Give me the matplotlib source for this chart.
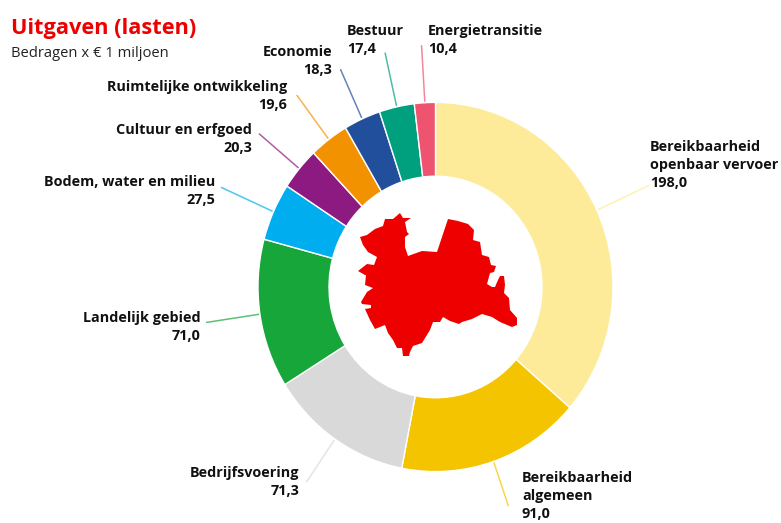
import numpy as np
import matplotlib
matplotlib.use('Agg')
import matplotlib.pyplot as plt
from matplotlib.patches import Polygon

plt.rcParams['font.family'] = ['Open Sans', 'DejaVu Sans']

W, H = 781, 523

names = ['Bereikbaarheid\nopenbaar vervoer', 'Bereikbaarheid\nalgemeen', 'Bedrijfsvoering',
         'Landelijk gebied', 'Bodem, water en milieu', 'Cultuur en erfgoed',
         'Ruimtelijke ontwikkeling', 'Economie', 'Bestuur', 'Energietransitie']
values = [198.0, 91.0, 71.3, 71.0, 27.5, 20.3, 19.6, 18.3, 17.4, 10.4]
colors = ['#FEEB99', '#F5C400', '#D9D9D9', '#17A63A', '#00AEEF',
          '#8C1A80', '#F39200', '#224F9B', '#00A07F', '#EE5370']

# text anchor of every label, in pixels from the top left
label_x = [650, 522, 299, 201, 215, 252, 287, 332, 347, 428]
label_y = [165, 496, 482, 327, 191, 139, 96, 61, 40, 40]
label_ha = ['left', 'left', 'right', 'right', 'right', 'right', 'right', 'right', 'left', 'left']
leader_r = [235, 223, 228, 232, 235, 230, 231, 230, 231, 233]

# outline of the province
region_x = [360, 367, 375, 383, 385, 393, 400, 403, 411, 405, 407, 409, 405, 405, 408, 422,
            437, 448, 458, 468, 474, 473, 480, 482, 489, 491, 496, 494, 490, 487, 492, 495,
            498, 500, 504, 505, 504, 509, 510, 517, 517, 512, 500, 492, 482, 472, 462, 459,
            450, 443, 440, 433, 430, 422, 413, 410, 409, 403, 402, 397, 393, 388, 385, 375,
            370, 365, 371, 371, 362, 361, 367, 373, 365, 366, 365, 358, 367, 374, 377, 368, 363]
region_y = [237, 235, 229, 226, 219, 219, 213, 218, 218, 222, 232, 234, 237, 247, 256, 251,
            252, 219, 221, 224, 230, 240, 242, 255, 257, 265, 266, 272, 273, 284, 287, 287,
            280, 276, 276, 285, 293, 298, 310, 318, 325, 327, 322, 317, 314, 319, 322, 324,
            321, 317, 322, 322, 330, 343, 346, 352, 356, 356, 348, 348, 340, 333, 325, 329,
            320, 309, 308, 305, 304, 302, 292, 288, 285, 275, 275, 271, 264, 265, 257, 252, 245]

k = 1.04  # the picture is a little taller than wide
cx, cy = 435.5, 287
r_out, r_in = 177.5, 106.5


def py(y):
    return (H - np.asarray(y, dtype=float)) / k


fig = plt.figure(figsize=(W / 100, H / 100), dpi=100)
ax = fig.add_axes([0, 0, 1, 1])

wedges, _ = ax.pie(values, colors=colors, startangle=90, counterclock=False,
                   radius=r_out, center=(cx, py(cy)),
                   wedgeprops=dict(width=r_out - r_in, edgecolor='white', linewidth=1))

ax.set_aspect('auto')
ax.set_xlim(0, W)
ax.set_ylim(0, H / k)
ax.axis('off')

# leader lines run straight out from the middle of each wedge
for w, c, r in zip(wedges, colors, leader_r):
    a = np.deg2rad((w.theta1 + w.theta2) / 2)
    ax.plot([cx + (r_out + 1) * np.cos(a), cx + r * np.cos(a)],
            [py(cy) + (r_out + 1) * np.sin(a), py(cy) + r * np.sin(a)],
            color=c, lw=1.1, alpha=0.7, solid_capstyle='butt')

ax.add_patch(Polygon(np.column_stack([region_x, py(region_y)]), closed=True,
                     facecolor='#EE0000', edgecolor='none'))

for n, v, x, y, ha in zip(names, values, label_x, label_y, label_ha):
    txt = '{}\n{:.1f}'.format(n, v).replace('.', ',')
    ax.text(x, py(y), txt, ha=ha, va='center', multialignment=ha, fontsize=10.4,
            fontweight='bold', color='#111111', linespacing=1.33)

ax.text(11, py(29), 'Uitgaven (lasten)', ha='left', va='center', fontsize=15.7,
        fontweight='bold', color='#EE0000')
ax.text(11, py(54), 'Bedragen x € 1 miljoen', ha='left', va='center', fontsize=10.6,
        color='#222222')

fig.savefig('out.png', dpi=100)
